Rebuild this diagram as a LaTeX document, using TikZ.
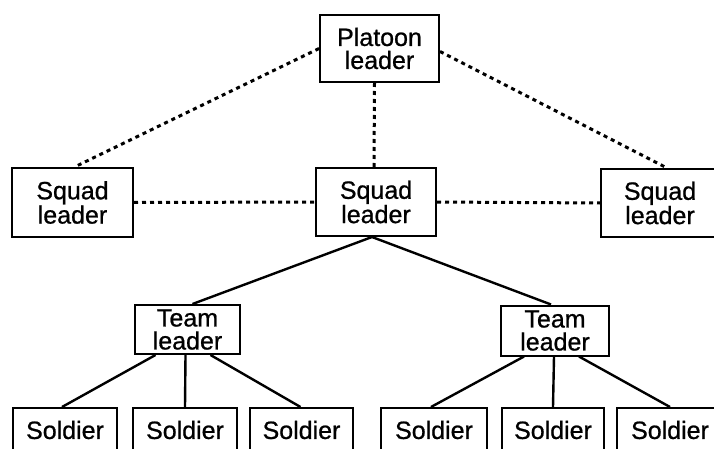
\documentclass[tikz,border=0pt]{standalone}
\usepackage{fontspec}
\setmainfont{Liberation Sans}
\newfontfamily\labelfont{Liberation Sans}[FakeBold=0.8]
\begin{document}
\begin{tikzpicture}[x=1pt,y=-1pt,
  box/.style={draw, line width=2pt, rectangle, inner sep=0pt, align=center,
    font=\labelfont\fontsize{25}{23}\selectfont},
  link/.style={line width=2.4pt},
  dotlink/.style={line width=3pt, dash pattern=on 4pt off 4pt}]
\useasboundingbox (0,0) rectangle (714,449);
\clip (0,0) rectangle (714,449);
\fill[white] (0,0) rectangle (714,449);

% command levels
\node[box, minimum width=119pt, minimum height=67pt] (plat) at (379.5,48.5) {Platoon\\leader};
\node[box, minimum width=121pt, minimum height=69pt] (sqa) at (72.5,202.5) {Squad\\leader};
\node[box, minimum width=120pt, minimum height=68pt] (sqb) at (376,202) {Squad\\leader};
\node[box, minimum width=118pt, minimum height=68pt] (sqc) at (660,203) {Squad\\leader};
\node[box, minimum width=105pt, minimum height=49pt] (tla) at (187.5,329.5) {Team\\leader};
\node[box, minimum width=108pt, minimum height=50pt] (tlb) at (555,330.5) {Team\\leader};

% soldiers
\node[box, minimum width=104pt, minimum height=44pt] (sa) at (65,430) {Soldier};
\node[box, minimum width=104pt, minimum height=44pt] (sb) at (185,430) {Soldier};
\node[box, minimum width=103pt, minimum height=44pt] (sc) at (301.5,430) {Soldier};
\node[box, minimum width=106pt, minimum height=44pt] (sd) at (434,430) {Soldier};
\node[box, minimum width=102pt, minimum height=44pt] (se) at (553,430) {Soldier};
\node[box, minimum width=106pt, minimum height=44pt] (sf) at (670,430) {Soldier};

% coordination links
\draw[dotlink] (plat.west) -- ([xshift=2pt]sqa.north);
\draw[dotlink] ([yshift=-3pt]plat.east) -- ([xshift=7pt]sqc.north);
\draw[dotlink] ([xshift=-5pt]plat.south) -- ([xshift=-2pt]sqb.north);
\draw[dotlink] (sqa.east) -- (sqb.west);
\draw[dotlink] (sqb.east) -- (sqc.west);

% chain of command
\draw[link] ([xshift=-4pt]sqb.south) -- ([xshift=5pt]tla.north);
\draw[link] ([xshift=-4pt]sqb.south) -- ([xshift=-4pt]tlb.north);
\draw[link] ([xshift=-32pt]tla.south) -- ([xshift=-3pt]sa.north);
\draw[link] ([xshift=-2pt]tla.south) -- (sb.north);
\draw[link] ([xshift=23pt]tla.south) -- ([xshift=-1pt]sc.north);
\draw[link] ([xshift=-31pt]tlb.south) -- ([xshift=-3pt]sd.north);
\draw[link] ([xshift=-1pt]tlb.south) -- (se.north);
\draw[link] ([xshift=24pt]tlb.south) -- (sf.north);
\end{tikzpicture}
\end{document}
